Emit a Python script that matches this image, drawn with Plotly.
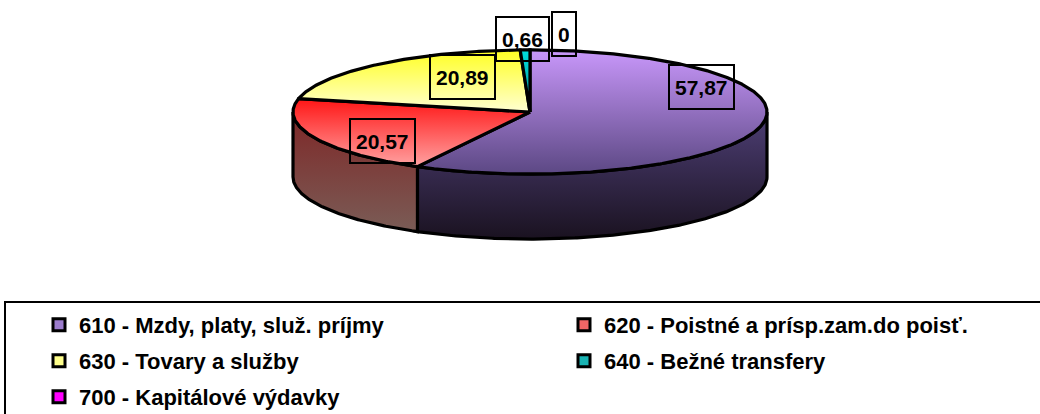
import numpy as np
import plotly.graph_objects as go

# ---------------- data ----------------
categories = [
    "610 - Mzdy, platy, služ. príjmy",
    "620 - Poistné a prísp.zam.do poisť.",
    "630 - Tovary a služby",
    "640 - Bežné transfery",
    "700 - Kapitálové výdavky",
]
values = [57.87, 20.57, 20.89, 0.66, 0.0]

# ---------------- styles ----------------
top_colors = [("#C897FA", "#5C4884"), ("#FF1515", "#FFA2A2"), ("#FFFF22", "#FFFFD2"),
              ("#00E0E0", "#008C8C"), ("#FF00FF", "#B000B0")]
side_colors = [("#4E3F76", "#1A1220"), ("#7E2727", "#7A5C56"), ("#9A9A40", "#77774A"),
               ("#007070", "#004040"), ("#800080", "#400040")]
legend_colors = ["#9C7CCD", "#F26666", "#FFFF8C", "#1AB4B4", "#FF00FF"]
label_k = [0.74, 0.74, 0.74, 1.12, 1.12]
label_shift = [(1, 36), (12, -10), (45, 0), (-2, 3), (34, 8)]
legend_text_x = [79, 604, 79, 604, 79]
legend_row_y = [325, 325, 361, 361, 397]

W, H = 1040, 414
CX, CY, SCALE = 530, 112, 237.0      # pie centre in px and px per unit
RX, RY, DEPTH = 1.0, 0.262, 0.274
OUTLINE = 3.2

total = sum(values)
cum = np.concatenate([[0.0], np.cumsum(values)]) / total * 360.0
angles = [(90 - cum[i], 90 - cum[i + 1]) for i in range(len(values))]


def arc(t0, t1, n):
    th = np.radians(np.linspace(t0, t1, n))
    return RX * np.cos(th), RY * np.sin(th)


fig = go.Figure()

# side walls (front half only)
for i, (a0, a1) in enumerate(angles):
    if values[i] <= 0:
        continue
    hi, lo = min(a0, 0.0), max(a1, -180.0)
    if hi <= lo:
        continue
    n = max(int((hi - lo) * 2), 4)
    xs, ys = arc(hi, lo, n)
    x = np.concatenate([xs, xs[::-1], xs[:1]])
    y = np.concatenate([ys, ys[::-1] - DEPTH, ys[:1]])
    fig.add_trace(go.Scatter(
        x=x, y=y, mode="lines", fill="toself",
        line=dict(color="black", width=OUTLINE),
        fillgradient=dict(type="vertical",
                          colorscale=[[0, side_colors[i][1]], [1, side_colors[i][0]]]),
        showlegend=False, hoverinfo="skip"))

# top faces
for i, (a0, a1) in enumerate(angles):
    if values[i] <= 0:
        continue
    n = max(int((a0 - a1) * 2), 3)
    xs, ys = arc(a0, a1, n)
    x = np.concatenate([[0.0], xs, [0.0]])
    y = np.concatenate([[0.0], ys, [0.0]])
    fig.add_trace(go.Scatter(
        x=x, y=y, mode="lines", fill="toself",
        line=dict(color="black", width=OUTLINE),
        fillgradient=dict(type="vertical",
                          colorscale=[[0, top_colors[i][1]], [1, top_colors[i][0]]]),
        showlegend=False, hoverinfo="skip"))

# data labels
for i, v in enumerate(values):
    a0, a1 = angles[i]
    am = np.radians((a0 + a1) / 2)
    k = label_k[i]
    fig.add_annotation(
        x=k * RX * np.cos(am), y=k * RY * np.sin(am) if k < 1 else k * RY,
        xref="x", yref="y", text=f"{v:g}".replace(".", ","), showarrow=False,
        xshift=label_shift[i][0], yshift=label_shift[i][1],
        font=dict(family="Liberation Sans, Arial", size=21, color="black", weight="bold"),
        bordercolor="black", borderwidth=2, borderpad=5, height=32,
        bgcolor="rgba(0,0,0,0)")

# legend entries (one legend per entry for precise placement)
legend_layout = {}
for i, name in enumerate(categories):
    lname = "legend" if i == 0 else f"legend{i + 1}"
    fig.add_trace(go.Scatter(
        x=[None], y=[None], mode="markers", name=name, legend=lname,
        marker=dict(symbol="square", size=12, color=legend_colors[i],
                    line=dict(color="black", width=3))))
    legend_layout[lname] = dict(
        x=(legend_text_x[i] - 40) / W, y=1 - legend_row_y[i] / H,
        xanchor="left", yanchor="middle", bgcolor="rgba(0,0,0,0)", borderwidth=0,
        font=dict(family="Liberation Sans, Arial", size=22, color="black", weight="bold"))

fig.update_layout(
    width=W, height=H, margin=dict(l=0, r=0, t=0, b=0, autoexpand=False),
    paper_bgcolor="white", plot_bgcolor="white",
    xaxis=dict(range=[-CX / SCALE, (W - CX) / SCALE], visible=False, fixedrange=True),
    yaxis=dict(range=[-(H - CY) / SCALE, CY / SCALE], visible=False, fixedrange=True),
    shapes=[dict(type="rect", xref="paper", yref="paper",
                 x0=5 / W, x1=1.02, y0=-0.05, y1=1 - 302 / H,
                 line=dict(color="black", width=2), fillcolor="rgba(0,0,0,0)", layer="below")],
    **legend_layout,
)

fig.write_html("out.html", config={"displayModeBar": False},
               post_script="document.body.style.margin='0';document.body.style.overflow='hidden';")
